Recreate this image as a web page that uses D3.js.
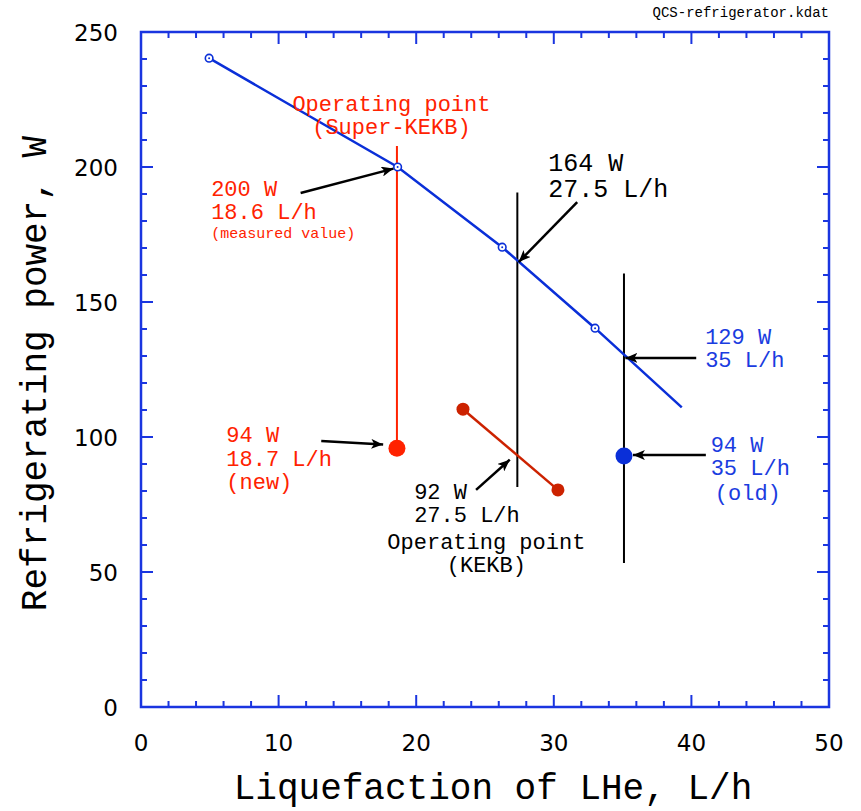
<!DOCTYPE html>
<html>
<head>
    <meta charset="utf-8">
    <title></title>
    <script src="https://d3js.org/d3.v7.min.js"></script>
<style>
body { margin: 0; background: #fff; }
svg { display: block; }
.mono { font-family: "Liberation Mono", "Courier New", monospace; }
.tick-label { font-family: "DejaVu Sans", sans-serif; font-size: 23px; fill: #000; }
</style>
</head>
<body>
<div id="chart"></div>
<script>
// refrigerator curve (Super-KEKB QCS), W vs L/h
const curveX = [4.95, 18.65, 26.25, 33.0, 39.3];
const curveY = [240.3, 200.0, 170.3, 140.3, 111.0];
const curveMarked = [true, true, true, true, false];

// KEKB operating line
const kekbX = [23.4, 30.3];
const kekbY = [110.3, 80.4];

// vertical guide lines: x, y bottom, y top, colour
const guideX = [18.6, 27.35, 35.1];
const guideY0 = [95.8, 81.5, 53.3];
const guideY1 = [207.8, 190.6, 160.6];
const guideColor = ['#ff2200', '#000', '#000'];

// big dots
const dotX = [18.6, 35.1];
const dotY = [95.8, 93.0];
const dotColor = ['#ff2200', '#0a2fd8'];

// arrows: from -> to
const arrowFrom = [[11.6, 190.4], [31.7, 187.0], [40.35, 129.3], [41.05, 93.3], [13.1, 98.5], [24.35, 80.4]];
const arrowTo = [[18.35, 199.4], [27.45, 164.8], [35.2, 129.3], [35.75, 93.3], [17.6, 97.2], [26.8, 91.6]];

// annotation blocks
const noteText = [
    ['Operating point', '(Super-KEKB)'],
    ['200 W', '18.6 L/h'],
    ['(measured value)'],
    ['164 W', '27.5 L/h'],
    ['129 W', '35 L/h'],
    ['94 W', '35 L/h'],
    ['(old)'],
    ['94 W', '18.7 L/h', '(new)'],
    ['92 W', '27.5 L/h'],
    ['Operating point', '(KEKB)']
];
const noteX = [18.2, 5.1, 5.1, 29.6, 41.0, 41.4, 44.1, 6.2, 19.85, 25.1];
const noteY = [220.7, 189.3, 173.7, 198.6, 134.4, 94.6, 76.6, 98.1, 76.9, 58.4];
const noteAnchor = ['middle', 'start', 'start', 'start', 'start', 'start', 'middle', 'start', 'start', 'middle'];
const noteSize = [22, 22, 15, 25, 22, 22, 22, 22, 22, 22];
const noteLine = [23, 23, 20, 26, 23, 23, 22, 23.5, 23, 23];
const noteColor = ['#ff2200', '#ff2200', '#ff2200', '#000', '#1a3ce0', '#1a3ce0', '#1a3ce0', '#ff2200', '#000', '#000'];

const xTicks = [0, 10, 20, 30, 40, 50];
const yTicks = [0, 50, 100, 150, 200, 250];

const width = 861, height = 811;
const margin = { top: 32, right: 32, bottom: 104, left: 141 };
const axisBlue = '#1a35e0';

const svg = d3.select('#chart').append('svg')
    .attr('width', width)
    .attr('height', height);

const x = d3.scaleLinear().domain([0, 50]).range([margin.left, width - margin.right]);
const y = d3.scaleLinear().domain([0, 250]).range([height - margin.bottom, margin.top]);

svg.append('defs').append('marker')
    .attr('id', 'head')
    .attr('viewBox', '0 0 12 10')
    .attr('refX', 12).attr('refY', 5)
    .attr('markerWidth', 12).attr('markerHeight', 10)
    .attr('markerUnits', 'userSpaceOnUse')
    .attr('orient', 'auto')
    .append('path')
    .attr('d', 'M0,0 L12,5 L0,10 L3,5 Z')
    .attr('fill', '#000');

// frame and inward ticks
const frame = svg.append('g');
frame.append('rect')
    .attr('x', x(0)).attr('y', y(250))
    .attr('width', x(50) - x(0)).attr('height', y(0) - y(250))
    .attr('fill', 'none').attr('stroke', axisBlue).attr('stroke-width', 2.5);

const xMinor = d3.range(0, 50.01, 2);
const yMinor = d3.range(0, 250.01, 10);
const tickLen = v => (v % 10 === 0 ? 12 : 6);
const yTickLen = v => (v % 50 === 0 ? 12 : 6);

frame.selectAll('.xt-b').data(xMinor).join('line')
    .attr('x1', d => x(d)).attr('x2', d => x(d))
    .attr('y1', y(0)).attr('y2', d => y(0) - tickLen(d));
frame.selectAll('.xt-t').data(xMinor).join('line').attr('class', 'xt-t')
    .attr('x1', d => x(d)).attr('x2', d => x(d))
    .attr('y1', y(250)).attr('y2', d => y(250) + tickLen(d));
frame.selectAll('.yt-l').data(yMinor).join('line').attr('class', 'yt-l')
    .attr('y1', d => y(d)).attr('y2', d => y(d))
    .attr('x1', x(0)).attr('x2', d => x(0) + yTickLen(d));
frame.selectAll('.yt-r').data(yMinor).join('line').attr('class', 'yt-r')
    .attr('y1', d => y(d)).attr('y2', d => y(d))
    .attr('x1', x(50)).attr('x2', d => x(50) - yTickLen(d));
frame.selectAll('line').attr('stroke', axisBlue).attr('stroke-width', 2);

// tick labels
svg.selectAll('.xl').data(xTicks).join('text')
    .attr('class', 'tick-label')
    .attr('x', d => x(d)).attr('y', y(0) + 44)
    .attr('text-anchor', 'middle')
    .text(d => d);
svg.selectAll('.yl').data(yTicks).join('text')
    .attr('class', 'tick-label')
    .attr('x', x(0) - 23).attr('y', d => y(d) + 9)
    .attr('text-anchor', 'end')
    .text(d => d);

// axis titles
svg.append('text').attr('class', 'mono')
    .attr('x', (x(0) + x(50)) / 2 + 8).attr('y', 799)
    .attr('text-anchor', 'middle')
    .attr('font-size', 36)
    .text('Liquefaction of LHe, L/h');
svg.append('text').attr('class', 'mono')
    .attr('transform', `translate(46, ${(y(0) + y(250)) / 2 + 4}) rotate(-90)`)
    .attr('text-anchor', 'middle')
    .attr('font-size', 36)
    .text('Refrigerating power, W');

svg.append('text').attr('class', 'mono')
    .attr('x', x(50)).attr('y', 17)
    .attr('text-anchor', 'end')
    .attr('font-size', 14)
    .text('QCS-refrigerator.kdat');

// guide lines
svg.selectAll('.guide').data(guideX).join('line')
    .attr('x1', d => x(d)).attr('x2', d => x(d))
    .attr('y1', (d, i) => y(guideY0[i])).attr('y2', (d, i) => y(guideY1[i]))
    .attr('stroke', (d, i) => guideColor[i]).attr('stroke-width', 2);

// curve
const curve = curveX.map((d, i) => [d, curveY[i]]);
svg.append('path')
    .datum(curve)
    .attr('d', d3.line().x(d => x(d[0])).y(d => y(d[1])))
    .attr('fill', 'none').attr('stroke', '#0a2fd8').attr('stroke-width', 2.5);
const marked = curve.filter((d, i) => curveMarked[i]);
svg.selectAll('.cm').data(marked).join('circle')
    .attr('cx', d => x(d[0])).attr('cy', d => y(d[1]))
    .attr('r', 3.8).attr('fill', '#fff').attr('stroke', '#0a2fd8').attr('stroke-width', 1.6);
svg.selectAll('.cmd').data(marked).join('circle')
    .attr('cx', d => x(d[0])).attr('cy', d => y(d[1]))
    .attr('r', 1).attr('fill', '#0a2fd8');

// KEKB line
const kekb = kekbX.map((d, i) => [d, kekbY[i]]);
svg.append('path')
    .datum(kekb)
    .attr('d', d3.line().x(d => x(d[0])).y(d => y(d[1])))
    .attr('fill', 'none').attr('stroke', '#cc2200').attr('stroke-width', 2.5);
svg.selectAll('.kd').data(kekb).join('circle')
    .attr('cx', d => x(d[0])).attr('cy', d => y(d[1]))
    .attr('r', 6.5).attr('fill', '#cc2200');

// big dots
svg.selectAll('.bd').data(dotX).join('circle')
    .attr('cx', d => x(d)).attr('cy', (d, i) => y(dotY[i]))
    .attr('r', 8.5).attr('fill', (d, i) => dotColor[i]);

// arrows
svg.selectAll('.arrow').data(arrowFrom).join('line')
    .attr('x1', d => x(d[0])).attr('y1', d => y(d[1]))
    .attr('x2', (d, i) => x(arrowTo[i][0])).attr('y2', (d, i) => y(arrowTo[i][1]))
    .attr('stroke', '#000').attr('stroke-width', 2.5)
    .attr('marker-end', 'url(#head)');

// annotations
noteText.forEach((lines, i) => {
    const t = svg.append('text').attr('class', 'mono')
        .attr('x', x(noteX[i])).attr('y', y(noteY[i]))
        .attr('text-anchor', noteAnchor[i])
        .attr('font-size', noteSize[i])
        .attr('fill', noteColor[i]);
    lines.forEach((s, j) => {
        t.append('tspan')
            .attr('x', x(noteX[i]))
            .attr('dy', j === 0 ? 0 : noteLine[i])
            .text(s);
    });
});
</script>
</body>
</html>
